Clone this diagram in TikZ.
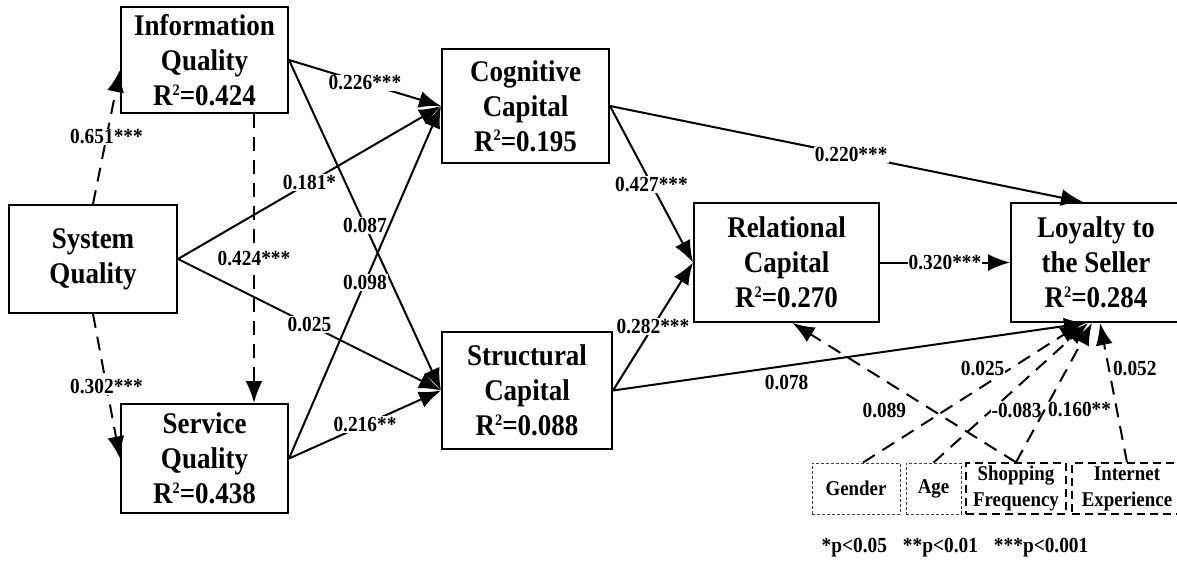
\documentclass[tikz,border=0pt]{standalone}
\usepackage{fontspec}
\setmainfont{Liberation Serif}[FakeStretch=0.9]
\usetikzlibrary{arrows.meta}
\newcommand{\rsq}{R\raisebox{0.75ex}{\fontsize{16}{16}\selectfont 2}}
\begin{document}
\begin{tikzpicture}[x=1pt,y=-1pt,
  box/.style={draw, line width=2pt, align=center, inner sep=0pt,
    font=\fontsize{30}{35}\selectfont\bfseries},
  ctrlA/.style={draw=black!75, line width=0.9pt, dash pattern=on 3pt off 2pt,
    align=center, inner sep=0pt, minimum height=51pt,
    font=\fontsize{21}{26}\selectfont\bfseries},
  ctrlB/.style={ctrlA, draw=black, line width=1.4pt, dash pattern=on 8pt off 5pt},
  con/.style={line width=2pt, -{Latex[length=22pt,width=17pt]}},
  dsh/.style={con, dash pattern=on 14pt off 9pt},
  lbl/.style={fill=white, inner sep=1pt, font=\fontsize{21.5}{24}\selectfont\bfseries},
]
\useasboundingbox (0,0) rectangle (1177,562);

% main constructs
\node[box, minimum width=167pt, minimum height=106pt] (info) at (204.5,60)
  {Information\\Quality\\\rsq=0.424};
\node[box, minimum width=168pt, minimum height=108pt] (sys) at (93,259)
  {System\\Quality};
\node[box, minimum width=167pt, minimum height=109pt] (serv) at (204.5,458.5)
  {Service\\Quality\\\rsq=0.438};
\node[box, minimum width=167pt, minimum height=114pt] (cog) at (525.5,106)
  {Cognitive\\Capital\\\rsq=0.195};
\node[box, minimum width=170pt, minimum height=117pt] (str) at (527,390.5)
  {Structural\\Capital\\\rsq=0.088};
\node[box, minimum width=185pt, minimum height=119pt] (rel) at (786.5,262.5)
  {Relational\\Capital\\\rsq=0.270};
\node[box, minimum width=170pt, minimum height=119pt] (loy) at (1096,262.5)
  {Loyalty to\\the Seller\\\rsq=0.284};

% control variables
\node[ctrlA, minimum width=88pt] (gen) at (856,488.5) {Gender};
\node[ctrlA, minimum width=55pt] (age) at (933.5,488.5) {Age};
\node[ctrlB, minimum width=100pt] (shop) at (1016,488.5) {Shopping\\Frequency};
\node[ctrlB, minimum width=110pt] (inet) at (1127,488.5) {Internet\\Experience};

% footer
\node[font=\fontsize{21.5}{24}\selectfont\bfseries, inner sep=0pt] (note) at (955,548)
  {*p<0.05\hspace{16pt}**p<0.01\hspace{16pt}***p<0.001};

% dashed paths among quality constructs
\draw[dsh] (sys.north) -- node[lbl] (l1) {0.651***} ([yshift=-10pt]info.west);
\draw[dsh] (sys.south) -- node[lbl] (l2) {0.302***} (serv.west);
\draw[dsh] ([xshift=49.5pt]info.south) -- node[lbl] (l3) {0.424***} ([xshift=49.5pt]serv.north);

% solid paths
\draw[con] (info.east) -- node[lbl] (l4) {0.226***} (cog.west);
\draw[con] (info.east) -- node[lbl] (l5) {0.087} (str.west);
\draw[con] (sys.east) -- node[lbl] (l6) {0.181*} (cog.west);
\draw[con] (sys.east) -- node[lbl] (l7) {0.025} (str.west);
\draw[con] (serv.east) -- node[lbl] (l8) {0.098} (cog.west);
\draw[con] (serv.east) -- node[lbl] (l9) {0.216**} (str.west);
\draw[con] (cog.east) -- node[lbl] (l10) {0.427***} (rel.west);
\draw[con] (str.east) -- node[lbl] (l11) {0.282***} (rel.west);
\draw[con] (cog.east) -- node[lbl, pos=0.51] (l12) {0.220***} ([xshift=-13pt]loy.north);
\draw[con] (rel.east) -- node[lbl] (l13) {0.320***} (loy.west);
\draw[con] (str.east) -- node[lbl, pos=0.367, yshift=-17pt] (l14) {0.078} ([xshift=-10pt]loy.south);

% control paths
\draw[dsh] ([xshift=7pt]gen.north) -- node[lbl, pos=0.674, xshift=-28pt] (l15) {0.025} ([xshift=-14pt]loy.south);
\draw[dsh] (age.north) -- node[lbl, pos=0.376, xshift=25pt] (l16) {-0.083} ([xshift=-8pt]loy.south);
\draw[dsh] (shop.north) -- node[lbl, pos=0.376, xshift=35pt] (l17) {0.160**} ([xshift=-4pt]loy.south);
\draw[dsh] (shop.north) -- node[lbl, pos=0.589, yshift=-30pt] (l18) {0.089} ([xshift=6pt]rel.south);
\draw[dsh] (inet.north) -- node[lbl, pos=0.674, xshift=26pt] (l19) {0.052} ([xshift=4pt]loy.south);
\end{tikzpicture}
\end{document}
